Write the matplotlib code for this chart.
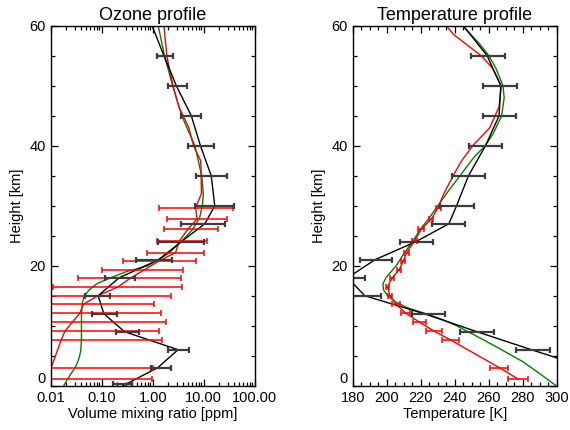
import numpy as np
import matplotlib
matplotlib.use('Agg')
import matplotlib.pyplot as plt
from matplotlib.ticker import MultipleLocator, FixedLocator, LogLocator, NullFormatter

plt.rcParams['font.family'] = ['Liberation Sans', 'DejaVu Sans']

# ---- ozone panel data (ppm) ----
o3_true_z = [0, 1, 2, 3, 4, 5, 6, 8, 10, 12, 14, 15, 16, 17, 18, 19, 20, 22, 24,
             26, 28, 30, 32, 35, 40, 45, 50, 55, 60]
o3_true = [0.018, 0.021, 0.025, 0.030, 0.034, 0.037, 0.039, 0.040, 0.040, 0.040,
           0.042, 0.046, 0.057, 0.08, 0.15, 0.30, 0.80, 2.0, 3.6, 6.0, 8.3, 9.4,
           9.8, 9.1, 6.7, 3.7, 2.45, 1.7, 1.28]

o3_ret_z = [0, 3, 6, 9, 12, 15, 18, 21, 24, 27, 30, 35, 40, 45, 50, 55, 60]
o3_ret = [0.26, 1.25, 3.14, 0.28, 0.11, 0.085, 0.22, 1.3, 3.6, 10.5, 16.4, 14.0,
          8.6, 5.7, 2.9, 1.66, 0.97]
o3_ret_err_z = [0.35, 3, 6, 9, 12, 15, 18, 21, 24, 27, 30, 35, 40, 45, 50, 55]
o3_ret_lo = [0.168, 0.92, 1.95, 0.187, 0.063, 0.046, 0.116, 0.47, 1.28, 3.55, 6.7,
             6.9, 4.8, 3.55, 2.0, 1.19]
o3_ret_hi = [0.385, 2.26, 5.1, 0.54, 0.195, 0.145, 0.447, 2.4, 10.0, 25.7, 39.0,
             29.0, 15.7, 9.0, 4.6, 2.5]

sonde_z = [1.07, 3.0, 7.6, 9.1, 10.6, 12.05, 13.6, 15.0, 16.5, 17.9, 19.3, 20.8,
           22.2, 24.1, 26.1, 27.8, 29.7, 32, 35, 37.5, 40, 43, 46.5, 50, 53, 55,
           58.5, 60]
o3_sonde = [0.0085, 0.0102, 0.016, 0.019, 0.0265, 0.037, 0.044, 0.085, 0.21, 0.36,
            0.68, 1.33, 2.8, 3.3, 4.9, 7.4, 6.9, 9.0, 8.9, 8.7, 6.3, 5.1, 3.25, 2.5,
            2.1, 1.89, 1.72, 1.67]
sonde_err_z = sonde_z[:17]
o3_sonde_lo = [0.0001, 0.0001, 0.00017, 0.0003, 0.0004, 0.001, 0.0018, 0.003,
               0.0112, 0.0346, 0.102, 0.26, 0.78, 1.2, 1.65, 1.91, 1.32]
o3_sonde_hi = [0.97, 1.0, 1.55, 1.32, 1.78, 1.44, 1.05, 2.26, 3.77, 3.55, 3.93, 7.0,
               10.0, 11.6, 19.1, 29.1, 37.4]

# ---- temperature panel data (K) ----
t_true_z = [0, 2, 4, 6, 8, 10, 11, 12, 13, 14, 15, 16, 17, 18, 19, 20, 22, 24, 26,
            28, 30, 32, 35, 38, 40, 42, 45, 48, 50, 53, 55, 57, 60]
t_true = [299.5, 290, 280, 267.5, 254.5, 241, 233, 223, 212, 205, 200.5, 198, 197.7,
          199.5, 202.5, 205.5, 210, 215, 219.5, 225, 230, 235, 243, 251, 257.8,
          262.5, 267.5, 269, 268.3, 264, 260, 254.5, 244.6]

t_ret_z = [0, 3, 6, 9, 12, 15, 18, 21, 24, 27, 30, 35, 40, 45, 50, 55, 60]
t_ret = [350, 318, 285, 253, 222, 187, 177, 193, 217, 236.5, 241, 248, 258, 266,
         267, 259, 245]
t_ret_err_z = [6, 9, 12, 15, 18, 21, 24, 27, 30, 35, 40, 45, 50, 55]
t_ret_lo = [276.1, 243.1, 214.7, 176.5, 167, 184.3, 207.8, 226.8, 231.4, 238.2,
            248.6, 256.5, 256.8, 249.6]
t_ret_hi = [296.1, 263.1, 234.3, 196.5, 187.2, 202.9, 227.4, 246.1, 251.4, 257.8,
            268.0, 276.1, 276.8, 269.2]

t_sonde = [277.4, 266.2, 237.7, 227.8, 219.2, 211.3, 205.3, 201.8, 200.4, 203,
           207.2, 209.6, 211.7, 216.2, 220.3, 226.2, 230.2, 233.5, 239, 244, 250.5,
           260.5, 266, 267.3, 262, 255.5, 239.5, 234.9]
t_sonde_lo = [271.5, 260.8, 232.7, 223.1, 215.2, 208.6, 203.0, 200.6, 199.4, 202.0,
              205.9, 208.4, 210.2, 214.7, 218.6, 225.0, 228.8]
t_sonde_hi = [283.3, 271.5, 242.7, 232.4, 223.1, 213.9, 207.6, 203.0, 201.4, 204.0,
              208.4, 210.8, 213.1, 217.6, 222.0, 227.4, 231.7]

height_ticks = [0, 20, 40, 60]

GRAY = '#3c3c3c'


def bars(ax, z, lo, hi, color, lw, ms):
    ax.hlines(z, lo, hi, colors=color, linewidth=lw)
    ax.plot(lo, z, ls='none', marker='|', ms=ms, mew=lw, color=color)
    ax.plot(hi, z, ls='none', marker='|', ms=ms, mew=lw, color=color)


def style(ax):
    ax.tick_params(which='both', direction='in', top=True, right=True, labelsize=10.5)
    ax.tick_params(which='major', length=5, width=0.9)
    ax.tick_params(which='minor', length=3, width=0.9)
    for s in ax.spines.values():
        s.set_linewidth(1.0)
    ax.set_ylim(0, 60)
    ax.set_yticks(height_ticks)
    ax.yaxis.set_minor_locator(MultipleLocator(5))
    ax.set_ylabel('Height [km]', fontsize=10.5)
    # lift the "0" height label off the corner, as in the original
    ax.yaxis.get_major_ticks()[0].label1.set_verticalalignment('bottom')


fig = plt.figure(figsize=(5.7, 4.3), dpi=100)
ax1 = fig.add_axes([0.089, 0.103, 0.358, 0.837])
ax2 = fig.add_axes([0.619, 0.103, 0.358, 0.837])

# ozone
ax1.plot(o3_true, o3_true_z, color='green', lw=1.0)
ax1.plot(o3_sonde, sonde_z, color='red', lw=1.0)
ax1.plot(o3_ret, o3_ret_z, color='black', lw=1.0)
bars(ax1, sonde_err_z, o3_sonde_lo, o3_sonde_hi, 'red', 1.1, 5)
bars(ax1, o3_ret_err_z, o3_ret_lo, o3_ret_hi, GRAY, 1.6, 5)
ax1.set_xscale('log')
ax1.set_xlim(0.01, 100)
ax1.xaxis.set_major_locator(FixedLocator([0.01, 0.1, 1, 10, 100]))
ax1.xaxis.set_minor_locator(LogLocator(base=10, subs=np.arange(2, 10)))
ax1.xaxis.set_minor_formatter(NullFormatter())
ax1.set_xticklabels(['0.01', '0.10', '1.00', '10.00', '100.00'])
style(ax1)
ax1.set_xlabel('Volume mixing ratio [ppm]', fontsize=10.5, labelpad=2)
ax1.set_title('Ozone profile', fontsize=13, pad=4)

# temperature
ax2.plot(t_true, t_true_z, color='green', lw=1.0)
ax2.plot(t_sonde, sonde_z, color='red', lw=1.0)
ax2.plot(t_ret, t_ret_z, color='black', lw=1.0)
bars(ax2, sonde_err_z, t_sonde_lo, t_sonde_hi, 'red', 1.1, 5)
bars(ax2, t_ret_err_z, t_ret_lo, t_ret_hi, GRAY, 1.6, 5)
ax2.set_xlim(180, 300)
ax2.xaxis.set_major_locator(MultipleLocator(20))
ax2.xaxis.set_minor_locator(MultipleLocator(5))
style(ax2)
ax2.set_xlabel('Temperature [K]', fontsize=10.5, labelpad=2)
ax2.set_title('Temperature profile', fontsize=13, pad=4)

fig.savefig('out.png', dpi=100)
